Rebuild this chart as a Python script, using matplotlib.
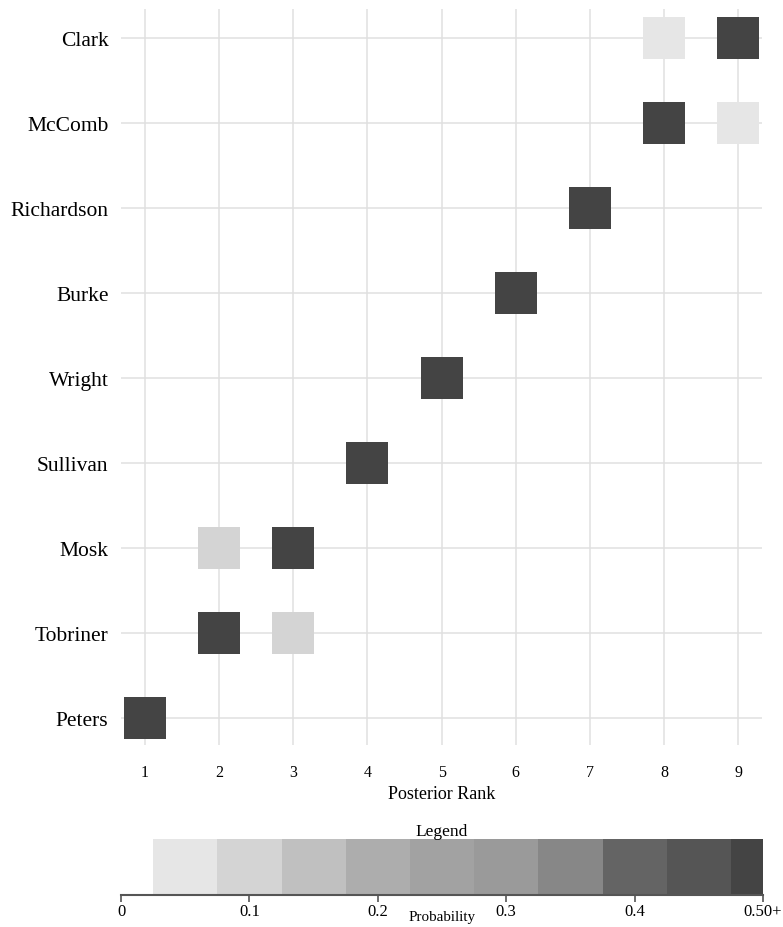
#!/usr/bin/env python3
import numpy as np
import matplotlib
matplotlib.use("Agg")
import matplotlib.pyplot as plt
from matplotlib.colors import ListedColormap, BoundaryNorm

plt.rcParams['font.family'] = ['Liberation Serif', 'DejaVu Serif']

justices = ['Peters', 'Tobriner', 'Mosk', 'Sullivan', 'Wright',
            'Burke', 'Richardson', 'McComb', 'Clark']
ranks = [1, 2, 3, 4, 5, 6, 7, 8, 9]

# posterior probability of each justice holding each rank (only non-trivial cells)
cell_justice = ['Peters', 'Tobriner', 'Tobriner', 'Mosk', 'Mosk', 'Sullivan',
                'Wright', 'Burke', 'Richardson', 'McComb', 'McComb', 'Clark', 'Clark']
cell_rank = [1, 2, 3, 2, 3, 4, 5, 6, 7, 8, 9, 8, 9]
cell_prob = [1.0, 0.9, 0.1, 0.1, 0.9, 1.0, 1.0, 1.0, 1.0, 0.95, 0.05, 0.05, 0.95]

# legend bins
bounds = [0.025, 0.075, 0.125, 0.175, 0.225, 0.275, 0.325, 0.375, 0.425, 0.475, 0.5]
greys = ['#e6e6e6', '#d4d4d4', '#c0c0c0', '#adadad', '#a2a2a2',
         '#9a9a9a', '#878787', '#646464', '#555555', '#444444']
cb_ticks = [0, 0.1, 0.2, 0.3, 0.4, 0.5]
cb_ticklabels = ['0', '0.1', '0.2', '0.3', '0.4', '0.50+']

cmap = ListedColormap(greys)
norm = BoundaryNorm(bounds[:-1] + [1.01], cmap.N)

fig = plt.figure(figsize=(7.83, 9.28), dpi=100)
ax = fig.add_axes([121/783, 1-746/928, 641/783, 736/928])

ypos = {j: i + 1 for i, j in enumerate(justices)}
ax.scatter(cell_rank, [ypos[j] for j in cell_justice], c=cell_prob, cmap=cmap, norm=norm,
           marker='s', s=(42*0.72)**2, linewidths=0, zorder=3)

ax.set_xlim(0.677, 9.32)
ax.set_ylim(0.682, 9.34)
ax.set_xticks(ranks)
ax.set_yticks(range(1, len(justices) + 1))
ax.set_yticklabels(justices, fontsize=15.5)
ax.tick_params(axis='both', length=0)
ax.tick_params(axis='x', labelsize=11.5, pad=14)
ax.tick_params(axis='y', pad=9)
ax.grid(True, color='#e0e0e0', linewidth=1.1, zorder=0)
ax.set_axisbelow(True)
for s in ax.spines.values():
    s.set_visible(False)
ax.set_xlabel('Posterior Rank', fontsize=13, labelpad=3)

# legend bar
cax = fig.add_axes([121/783, 1-896/928, 642/783, 56/928])
lefts = bounds[:-1]
widths = np.diff(bounds)
cax.bar(lefts, [1]*len(lefts), width=widths, align='edge', color=greys, linewidth=0)
cax.set_xlim(0, 0.5)
cax.set_ylim(0, 1)
cax.set_yticks([])
for k in ['top', 'left', 'right']:
    cax.spines[k].set_visible(False)
cax.spines['bottom'].set_color('#555555')
cax.spines['bottom'].set_linewidth(1.5)
cax.set_xticks(cb_ticks)
cax.set_xticklabels(cb_ticklabels, fontsize=12)
cax.tick_params(axis='x', length=5, width=1.2, color='#555555', pad=1)
cax.set_xlabel('Probability', fontsize=10.8, labelpad=-7)
cax.set_title('Legend', fontsize=12.5, pad=2)

plt.savefig('out.png', dpi=100)
